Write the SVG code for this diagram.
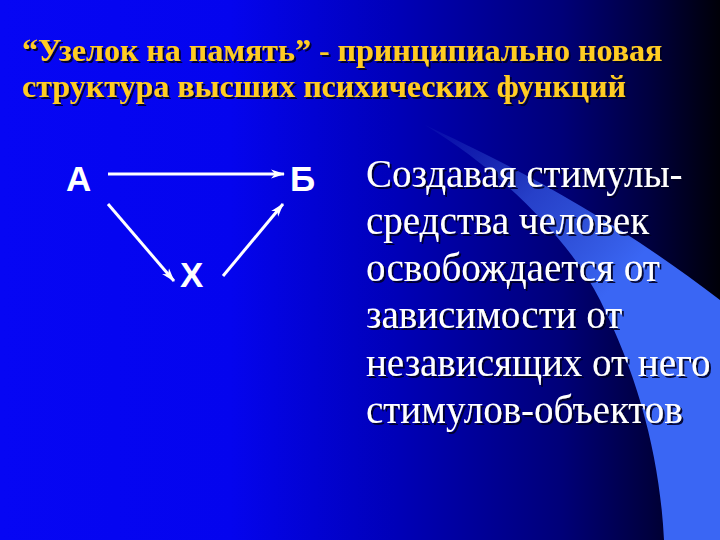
<svg xmlns="http://www.w3.org/2000/svg" width="720" height="540" viewBox="0 0 720 540">
<defs>
  <linearGradient id="bg" x1="0" y1="0" x2="720" y2="0" gradientUnits="userSpaceOnUse">
    <stop offset="0" stop-color="#0606f4"/>
    <stop offset="0.32" stop-color="#0404ee"/>
    <stop offset="0.55" stop-color="#0000b8"/>
    <stop offset="0.78" stop-color="#000078"/>
    <stop offset="0.9" stop-color="#000040"/>
    <stop offset="1" stop-color="#000008"/>
  </linearGradient>
  <linearGradient id="sw" x1="430" y1="125" x2="610" y2="290" gradientUnits="userSpaceOnUse">
    <stop offset="0" stop-color="#2a44c0" stop-opacity="0.15"/>
    <stop offset="0.5" stop-color="#3355e0" stop-opacity="0.75"/>
    <stop offset="1" stop-color="#3a66f4"/>
  </linearGradient>
  <filter id="sh" x="-5%" y="-20%" width="110%" height="140%">
    <feDropShadow dx="2" dy="2" stdDeviation="0.6" flood-color="#000020" flood-opacity="0.9"/>
  </filter>
  <marker id="ah" viewBox="0 0 14 10" refX="13" refY="5" markerWidth="14" markerHeight="10" markerUnits="userSpaceOnUse" orient="auto">
    <path d="M0,0.5 L14,5 L0,9.5 L4,5 Z" fill="#ffffff"/>
  </marker>
  <style>
    .title { font-family: "Liberation Serif", "Times New Roman", serif; font-weight: bold; font-size: 32px; fill: #ffcc22; }
    .body { font-family: "Liberation Serif", "Times New Roman", serif; font-size: 39px; fill: #ffffff; }
    .lbl { font-family: "Liberation Sans", Arial, sans-serif; font-weight: bold; font-size: 35px; fill: #ffffff; }
    .conn { stroke: #ffffff; stroke-width: 3; fill: none; marker-end: url(#ah); }
  </style>
</defs>
<rect x="0" y="0" width="720" height="540" fill="url(#bg)"/>
<path d="M425,125 C500,160 610,215 720,300 L720,540 L664,540 C660,460 640,380 600,300 C570,240 500,170 425,125 Z" fill="url(#sw)"/>
<g id="title" filter="url(#sh)">
  <text class="title" x="22" y="61">“Узелок на память” - принципиально новая</text>
  <text class="title" x="22" y="97">структура высших психических функций</text>
</g>
<g id="node-A"><text class="lbl" x="66" y="191">А</text></g>
<g id="node-B"><text class="lbl" x="290" y="191">Б</text></g>
<g id="node-X"><text class="lbl" x="180" y="287">Х</text></g>
<g id="connectors">
  <line class="conn" x1="108" y1="174" x2="284" y2="174"/>
  <line class="conn" x1="108" y1="204" x2="174" y2="281"/>
  <line class="conn" x1="223" y1="276" x2="283" y2="204"/>
</g>
<g id="body" filter="url(#sh)">
  <text class="body" x="366" y="187">Создавая стимулы-</text>
  <text class="body" x="366" y="234">средства человек</text>
  <text class="body" x="366" y="281">освобождается от</text>
  <text class="body" x="366" y="328">зависимости от</text>
  <text class="body" x="366" y="376">независящих от него</text>
  <text class="body" x="366" y="423">стимулов-объектов</text>
</g>
</svg>
